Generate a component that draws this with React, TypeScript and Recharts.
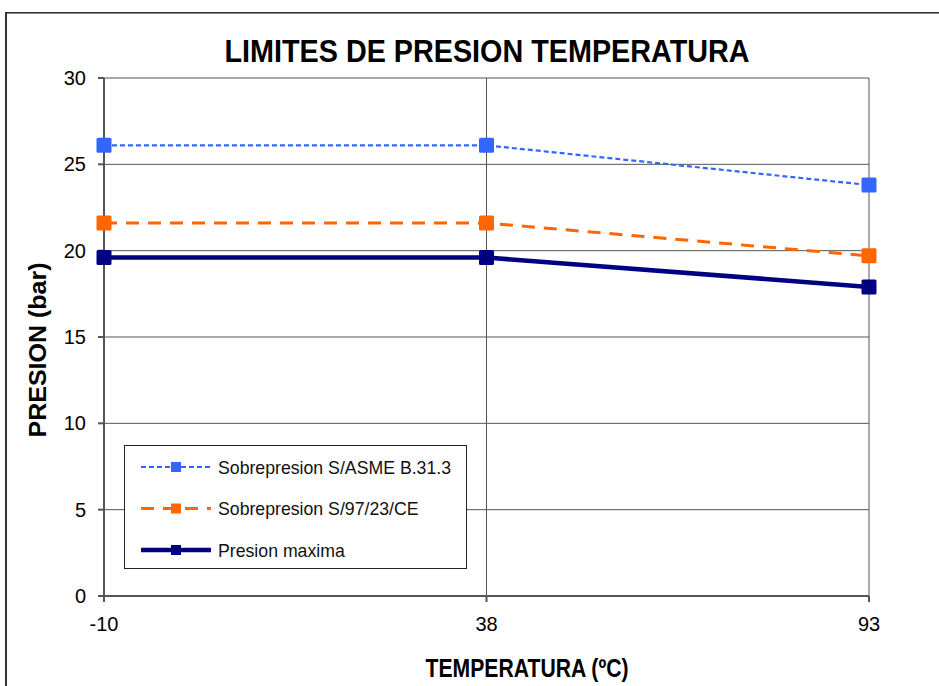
import React from "react";
import { LineChart, Line, XAxis, YAxis, CartesianGrid, Legend } from "recharts";

// Temperature categories (ºC)
const temperatures = ["-10", "38", "93"];
// Pressure limits (bar) for each temperature
const asmeOverpressure = [26.1, 26.1, 23.8];
const ceOverpressure = [21.6, 21.6, 19.7];
const maxPressure = [19.6, 19.6, 17.9];
const yTicks = [0, 5, 10, 15, 20, 25, 30];

const seriesInfo = [
  { key: "asme", name: "Sobrepresion S/ASME B.31.3", color: "#3366FF", width: 2.2, dash: "5 3" },
  { key: "ce", name: "Sobrepresion S/97/23/CE", color: "#FF6600", width: 3, dash: "13 9" },
  { key: "max", name: "Presion maxima", color: "#000080", width: 4.5, dash: undefined as string | undefined },
];

const data = temperatures.map((t, i) => ({
  temp: t,
  asme: asmeOverpressure[i],
  ce: ceOverpressure[i],
  max: maxPressure[i],
}));

const FONT = "'Liberation Sans', Arial, Helvetica, sans-serif";

const squareDot = (color: string) => (props: any) => {
  const { cx, cy, index } = props;
  if (cx == null || cy == null) return <g key={`d-${index}`} />;
  return (
    <rect
      key={`d-${color}-${index}`}
      x={cx - 7.5}
      y={cy - 7.5}
      width={15}
      height={15}
      rx={1.5}
      fill={color}
    />
  );
};

const LegendBox = () => (
  <div
    style={{
      width: 343,
      height: 124,
      border: "1px solid #222",
      background: "#fff",
      boxSizing: "border-box",
    }}
  >
    <svg width={341} height={122} style={{ display: "block" }}>
      {seriesInfo.map((s, i) => {
        const y = 21 + i * 41.5;
        return (
          <g key={s.key}>
            <line
              x1={16}
              x2={86}
              y1={y}
              y2={y}
              stroke={s.color}
              strokeWidth={s.width}
              strokeDasharray={s.dash}
            />
            <rect x={46} y={y - 5} width={10} height={10} fill={s.color} />
            <text
              x={93}
              y={y + 6.5}
              fontFamily={FONT}
              fontSize={17.7}
              fill="#111"
            >
              {s.name}
            </text>
          </g>
        );
      })}
    </svg>
  </div>
);

export default function App() {
  return (
    <div
      style={{
        position: "fixed",
        left: 0,
        top: 0,
        width: 960,
        height: 700,
        overflow: "hidden",
        background: "#fff",
        fontFamily: FONT,
      }}
    >
      <div style={{ position: "absolute", left: 0, top: 0 }}>
        <LineChart
          width={939}
          height={686}
          data={data}
          margin={{ top: 78, right: 70, bottom: 60, left: 0 }}
        >
          <CartesianGrid stroke="#555" strokeWidth={1} />
          <XAxis
            dataKey="temp"
            height={30}
            tickSize={6}
            tickMargin={15}
            stroke="#555"
            strokeWidth={2}
            tick={{ fill: "#000", fontSize: 20, fontFamily: FONT }}
          />
          <YAxis
            width={104}
            domain={[0, 30]}
            ticks={yTicks}
            tickSize={6}
            tickMargin={12}
            stroke="#555"
            strokeWidth={2}
            tick={{ fill: "#000", fontSize: 20, fontFamily: FONT }}
          />
          <Legend
            layout="horizontal"
            verticalAlign="middle"
            align="center"
            wrapperStyle={{ left: 124, top: 445, width: 343, height: 124 }}
            content={() => <LegendBox />}
          />
          {seriesInfo.map((s) => (
            <Line
              key={s.key}
              type="linear"
              dataKey={s.key}
              name={s.name}
              stroke={s.color}
              strokeWidth={s.width}
              strokeDasharray={s.dash}
              dot={squareDot(s.color)}
              activeDot={false}
              isAnimationActive={false}
            />
          ))}
        </LineChart>
      </div>
      {/* frame and titles */}
      <svg
        width={960}
        height={700}
        style={{ position: "absolute", left: 0, top: 0, pointerEvents: "none" }}
      >
        <rect x={5} y={12} width={2} height={688} fill="#333" />
        <rect x={5} y={12} width={955} height={1.6} fill="#333" />
        <text
          x={487}
          y={62}
          textAnchor="middle"
          fontFamily={FONT}
          fontWeight="bold"
          fontSize={32}
          textLength={525}
          lengthAdjust="spacingAndGlyphs"
          fill="#000"
        >
          LIMITES DE PRESION TEMPERATURA
        </text>
        <text
          x={527}
          y={677}
          textAnchor="middle"
          fontFamily={FONT}
          fontWeight="bold"
          fontSize={25}
          textLength={203}
          lengthAdjust="spacingAndGlyphs"
          fill="#000"
        >
          TEMPERATURA (ºC)
        </text>
        <text
          transform="translate(46,350) rotate(-90)"
          x={0}
          y={0}
          textAnchor="middle"
          fontFamily={FONT}
          fontWeight="bold"
          fontSize={24}
          textLength={175}
          lengthAdjust="spacingAndGlyphs"
          fill="#000"
        >
          PRESION (bar)
        </text>
      </svg>
    </div>
  );
}
